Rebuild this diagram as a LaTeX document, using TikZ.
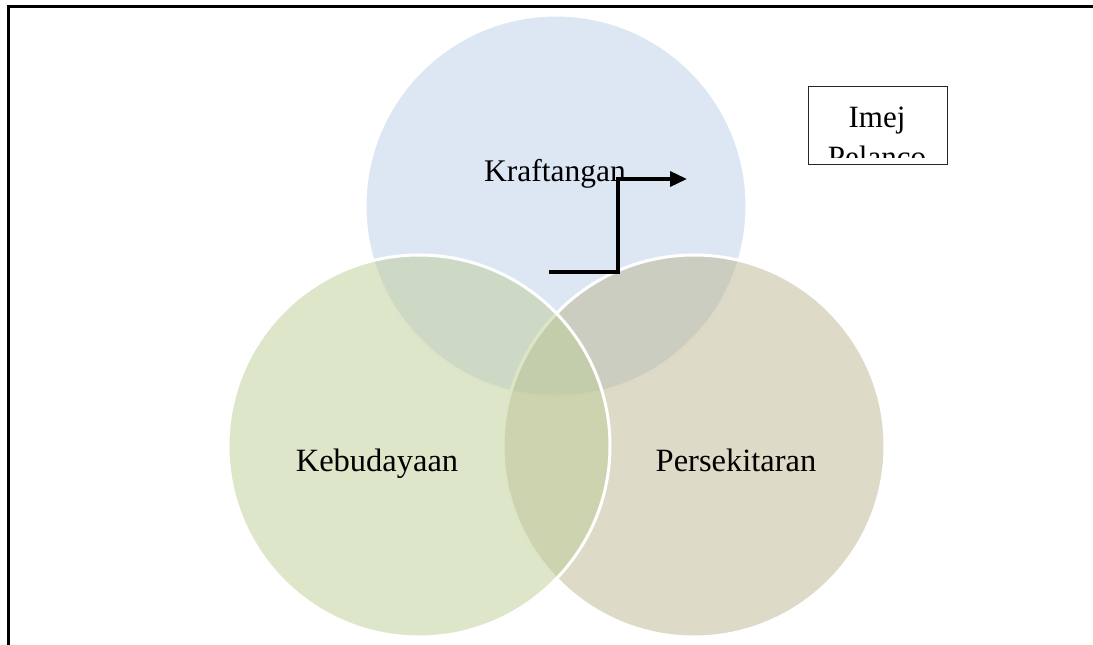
\documentclass[tikz,border=0pt]{standalone}
\usepackage{fontspec}
\setmainfont{Liberation Serif}
\usetikzlibrary{arrows.meta}
\definecolor{cTop}{RGB}{187,207,233}
\definecolor{cLeft}{RGB}{189,205,149}
\definecolor{cRight}{RGB}{187,181,143}
\tikzset{
  venn/.style={circle, minimum size=382pt, inner sep=0pt, fill opacity=0.5, draw opacity=1, draw=white, line width=3pt},
  vlabel/.style={anchor=base, font=\fontsize{32.5}{37}\selectfont, inner sep=0pt},
  boxlabel/.style={anchor=base, font=\fontsize{31}{36}\selectfont, inner sep=0pt},
}
\begin{document}
\begin{tikzpicture}[x=1pt,y=-1pt]
\useasboundingbox (0,0) rectangle (1093,645);
% frame
\coordinate (fb) at (8.5,645);
\coordinate (ftl) at (8.5,6);
\coordinate (fr) at (1093,6);
\draw[line width=3pt] (fb) -- (ftl) -- (fr);
% circles
\node[venn, fill=cTop] (kraf) at (556,206) {};
\node[venn, fill=cRight] (pers) at (694,446) {};
\node[venn, fill=cLeft] (kebu) at (419,446) {};
% labels
\node[vlabel, font=\fontsize{31.5}{36}\selectfont] (lk) at (555,181) {Kraftangan};
\node[vlabel] (lb) at (377,471) {Kebudayaan};
\node[vlabel] (lp) at (736,471) {Persekitaran};
% arrow
\coordinate (a0) at (549,272);
\coordinate (a1) at (618,272);
\coordinate (a2) at (618,179);
\coordinate (a3) at (687,179);
\draw[line width=3.5pt, -{Triangle[length=17pt,width=15pt]}] (a0) -- (a1) -- (a2) -- (a3);
% box
\node[draw=black!85, line width=1.5pt, minimum width=139pt, minimum height=78pt, inner sep=0pt] (box) at (878,125.5) {};
\begin{scope}
\clip (810,88) rectangle (946,157);
\node[boxlabel] (imej) at (877,127) {Imej};
\node[boxlabel] (pel) at (877,167) {Pelanco};
\end{scope}
\end{tikzpicture}
\end{document}
